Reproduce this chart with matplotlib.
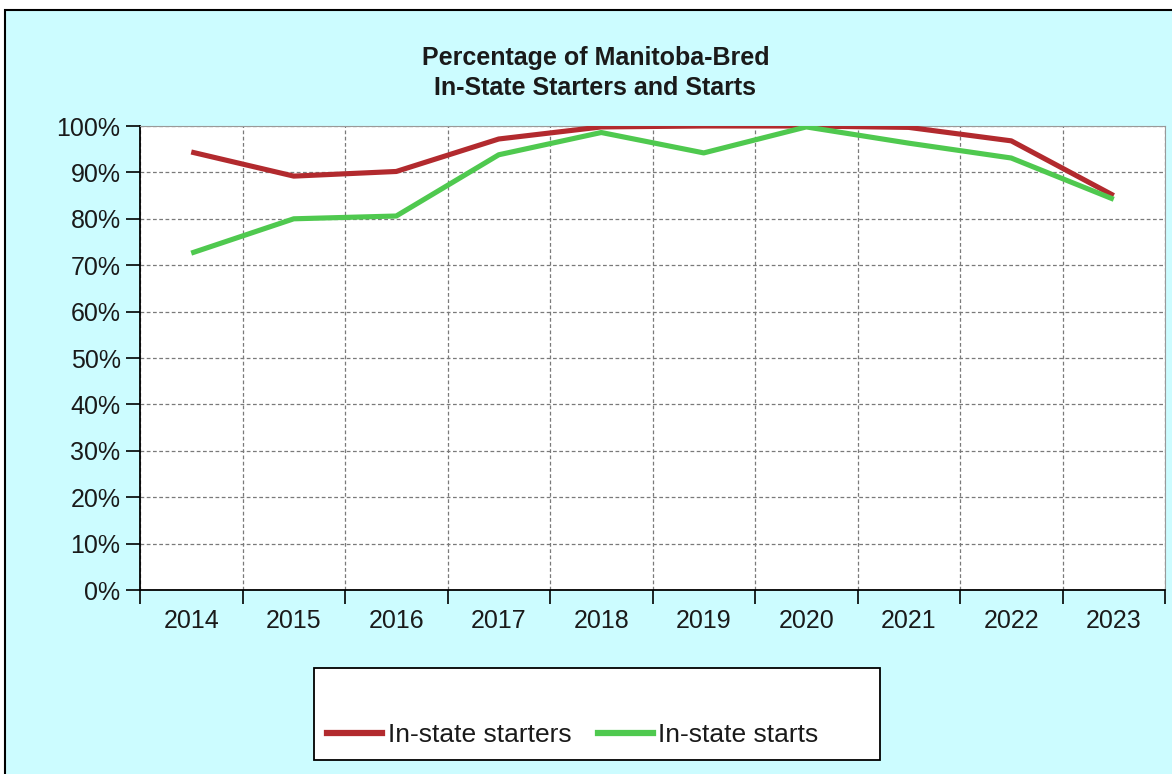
import matplotlib.pyplot as plt
from matplotlib.patches import Rectangle
from matplotlib.lines import Line2D
from matplotlib.ticker import PercentFormatter, FixedLocator

years = ['2014', '2015', '2016', '2017', '2018', '2019', '2020', '2021', '2022', '2023']
starters = [94.4, 89.2, 90.2, 97.2, 99.8, 100.0, 100.0, 99.7, 96.8, 85.0]
starts = [72.6, 80.0, 80.6, 93.8, 98.6, 94.2, 99.8, 96.3, 93.1, 84.2]

RED = '#B22A2E'
GREEN = '#4FC94F'
CYAN = '#CCFCFF'
TXT = '#1a1a1a'

plt.rcParams['font.family'] = ['Liberation Sans', 'DejaVu Sans']

fig = plt.figure(figsize=(11.72, 7.74), dpi=100)
fig.patch.set_facecolor('white')

# outer chart border (cyan box, black edge)
fig.patches.append(Rectangle((5 / 1172, -0.05), 1.2, 1 - 10 / 774 + 0.05,
                             transform=fig.transFigure, facecolor=CYAN,
                             edgecolor='black', lw=1.5, zorder=-10))

ax = fig.add_axes([140 / 1172, 1 - 590 / 774, 1025 / 1172, 464 / 774])
ax.set_facecolor('white')

x = list(range(len(years)))
ax.plot(x, starters, color=RED, lw=3.7, solid_capstyle='butt', zorder=3)
ax.plot(x, starts, color=GREEN, lw=3.7, solid_capstyle='butt', zorder=3)

ax.set_xlim(-0.5, len(years) - 0.5)
ax.set_ylim(0, 100)
ax.set_yticks(range(0, 101, 10))
ax.yaxis.set_major_formatter(PercentFormatter(decimals=0))

ax.set_xticks(x)
ax.set_xticklabels(years)
ax.xaxis.set_minor_locator(FixedLocator([i - 0.5 for i in range(len(years) + 1)]))
ax.tick_params(axis='x', which='major', length=0, pad=14, labelsize=18, labelcolor=TXT)
ax.tick_params(axis='x', which='minor', length=10, width=1.2, direction='out')
ax.tick_params(axis='y', length=10, width=1.2, direction='out', pad=4, labelsize=18,
               labelcolor=TXT)

ax.grid(True, axis='y', which='major', color='#7a7a7a', ls=(0, (3, 2)), lw=0.9)
ax.grid(True, axis='x', which='minor', color='#7a7a7a', ls=(0, (3, 2)), lw=0.9)
ax.set_axisbelow(True)

ax.spines['left'].set_color('black')
ax.spines['bottom'].set_color('black')
ax.spines['left'].set_linewidth(1.3)
ax.spines['bottom'].set_linewidth(1.3)
ax.spines['top'].set_color('#999999')
ax.spines['right'].set_color('#999999')

fig.text(0.508, 1 - 58 / 774, 'Percentage of Manitoba-Bred', ha='center', va='center',
         fontsize=18, fontweight='bold', color=TXT)
fig.text(0.508, 1 - 88 / 774, 'In-State Starters and Starts', ha='center', va='center',
         fontsize=18, fontweight='bold', color=TXT)

# legend box
bx0, by0, bx1, by1 = 314, 668, 880, 760
fig.patches.append(Rectangle((bx0 / 1172, 1 - by1 / 774), (bx1 - bx0) / 1172,
                             (by1 - by0) / 774, transform=fig.transFigure,
                             facecolor='white', edgecolor='black', lw=1.3, zorder=1))
handles = [Line2D([], [], color=RED, lw=4.5), Line2D([], [], color=GREEN, lw=4.5)]
leg = fig.legend(handles, ['In-state starters', 'In-state starts'], ncol=2, frameon=False,
                 loc='center left', bbox_to_anchor=(327 / 1172, 1 - 735 / 774),
                 fontsize=19, handlelength=2.1, handletextpad=0.2, columnspacing=1.0,
                 borderaxespad=0, borderpad=0)
for t in leg.get_texts():
    t.set_color(TXT)

fig.savefig('out.png', dpi=100, facecolor=fig.get_facecolor())
